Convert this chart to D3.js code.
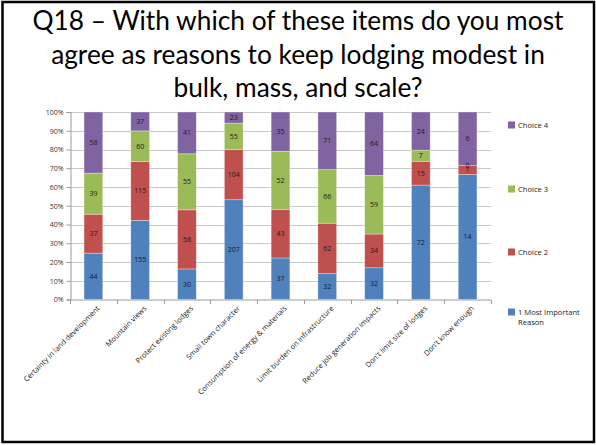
<!DOCTYPE html>
<html><head><meta charset="utf-8">
<script src="https://cdnjs.cloudflare.com/ajax/libs/d3/7.8.5/d3.min.js"></script>
<style>html,body{margin:0;padding:0;background:#fff;}svg{display:block;}</style>
</head><body>
<svg id="c" width="596" height="445"></svg>
<script>
const titleLines = ["Q18 \u2013 With which of these items do you most", "agree as reasons to keep lodging modest in", "bulk, mass, and scale?"];
const categories = ["Certainty in land development", "Mountain views", "Protect existing lodges", "Small town character", "Consumption of energy &  materials", "Limit burden on infrastructure", "Reduce job generation impacts", "Don't limit size of lodges", "Don't know enough"];
const seriesNames = ["1 Most Important Reason", "Choice 2", "Choice 3", "Choice 4"];
const choice1 = [44, 155, 30, 207, 37, 32, 32, 72, 14];
const choice2 = [37, 115, 58, 104, 43, 62, 34, 15, 1];
const choice3 = [39, 60, 55, 55, 52, 66, 59, 7, 0];
const choice4 = [58, 37, 41, 23, 35, 71, 64, 24, 6];
const colors = ["#4F81BD", "#C0504D", "#9BBB59", "#8064A2"];
const yTicks = [0, 0.1, 0.2, 0.3, 0.4, 0.5, 0.6, 0.7, 0.8, 0.9, 1.0];

const svg = d3.select("#c");
// frame
svg.append("rect").attr("x", 2.5).attr("y", 2).attr("width", 591.5).attr("height", 440)
  .attr("fill", "#fff").attr("stroke", "#000").attr("stroke-width", 2.5);

// title
const titleY = [30, 63.5, 97];
const titleWidths = [531, 510, 255];
const tg = svg.append("g");
titleLines.forEach((t, i) => {
  tg.append("text").attr("x", 298).attr("y", titleY[i]).attr("text-anchor", "middle")
    .attr("font-family", "Lato, 'Open Sans', sans-serif").attr("font-size", 26).attr("fill", "#000").text(t);
});
{
  const first = tg.select("text").node();
  const w = first.getComputedTextLength();
  const fs = 26 * titleWidths[0] / w;
  tg.selectAll("text").attr("font-size", fs.toFixed(2));
}

const x = d3.scaleBand().domain(categories).range([70, 491]).paddingInner(0.6).paddingOuter(0.3);
const y = d3.scaleLinear().domain([0, 1]).range([299.5, 112]);

// gridlines
svg.append("g").selectAll("line").data(yTicks.slice(1)).join("line")
  .attr("x1", 70).attr("x2", 491).attr("y1", d => Math.round(y(d)) + 0.5).attr("y2", d => Math.round(y(d)) + 0.5)
  .attr("stroke", "#c8c8c8").attr("stroke-width", 1);

// y axis
const yAxis = svg.append("g").attr("transform", "translate(70.5,0)")
  .call(d3.axisLeft(y).tickValues(yTicks).tickFormat(d3.format(".0%")).tickSize(4).tickPadding(3));
yAxis.selectAll("path,line").attr("stroke", "#999");
yAxis.selectAll("text").attr("font-family", "'Open Sans', sans-serif").attr("font-size", 7).attr("fill", "#333");

// x axis
const xg = svg.append("g").attr("transform", "translate(0,300)");
xg.append("line").attr("x1", 70).attr("x2", 491).attr("y1", 0).attr("y2", 0).attr("stroke", "#999");
const step = x.step();
xg.selectAll("line.t").data(d3.range(categories.length + 1)).join("line").attr("class", "t")
  .attr("x1", i => Math.round(70 + i * step) + 0.5).attr("x2", i => Math.round(70 + i * step) + 0.5)
  .attr("y1", 0).attr("y2", 4).attr("stroke", "#999");
xg.selectAll("text").data(categories).join("text")
  .attr("transform", d => `translate(${x(d) + x.bandwidth() / 2 + 5},${7}) rotate(-45)`)
  .attr("text-anchor", "end").attr("dy", "0.35em")
  .attr("font-family", "'Open Sans', sans-serif").attr("font-size", 7.4).attr("fill", "#222").text(d => d);

// stacked percentages
const seriesVals = [choice1, choice2, choice3, choice4];
const rows = categories.map((c, i) => {
  const tot = seriesVals.reduce((s, a) => s + a[i], 0);
  let cum = 0;
  return seriesVals.map((a, k) => {
    const y0 = cum / tot; cum += a[i];
    return { cat: c, k, v: a[i], y0, y1: cum / tot };
  });
}).flat();

const bars = svg.append("g");
bars.selectAll("rect").data(rows).join("rect")
  .attr("x", d => x(d.cat)).attr("width", x.bandwidth())
  .attr("y", d => y(d.y1)).attr("height", d => y(d.y0) - y(d.y1))
  .attr("fill", d => colors[d.k]).attr("stroke", "rgba(255,255,255,0.45)").attr("stroke-width", 0.7);
bars.selectAll("text").data(rows).join("text")
  .attr("x", d => x(d.cat) + x.bandwidth() / 2).attr("y", d => y((d.y0 + d.y1) / 2))
  .attr("dy", "0.35em").attr("text-anchor", "middle")
  .attr("font-family", "'Open Sans', sans-serif").attr("font-size", 7).attr("fill", "#1a1a1a")
  .text(d => d.v);

// legend
const legendY = [125, 189, 252, 312];
const lg = svg.append("g");
[3, 2, 1, 0].forEach((k, i) => {
  lg.append("rect").attr("x", 508).attr("y", legendY[i] - 3.5).attr("width", 7).attr("height", 7).attr("fill", colors[k]);
  const t = lg.append("text").attr("x", 518).attr("y", legendY[i]).attr("dy", "0.35em")
    .attr("font-family", "'Open Sans', sans-serif").attr("font-size", 7.6).attr("fill", "#222");
  if (k === 0) {
    t.append("tspan").attr("x", 518).text("1 Most Important");
    t.append("tspan").attr("x", 518).attr("dy", "1.4em").text("Reason");
  } else {
    t.text(seriesNames[k]);
  }
});
</script>
</body></html>
